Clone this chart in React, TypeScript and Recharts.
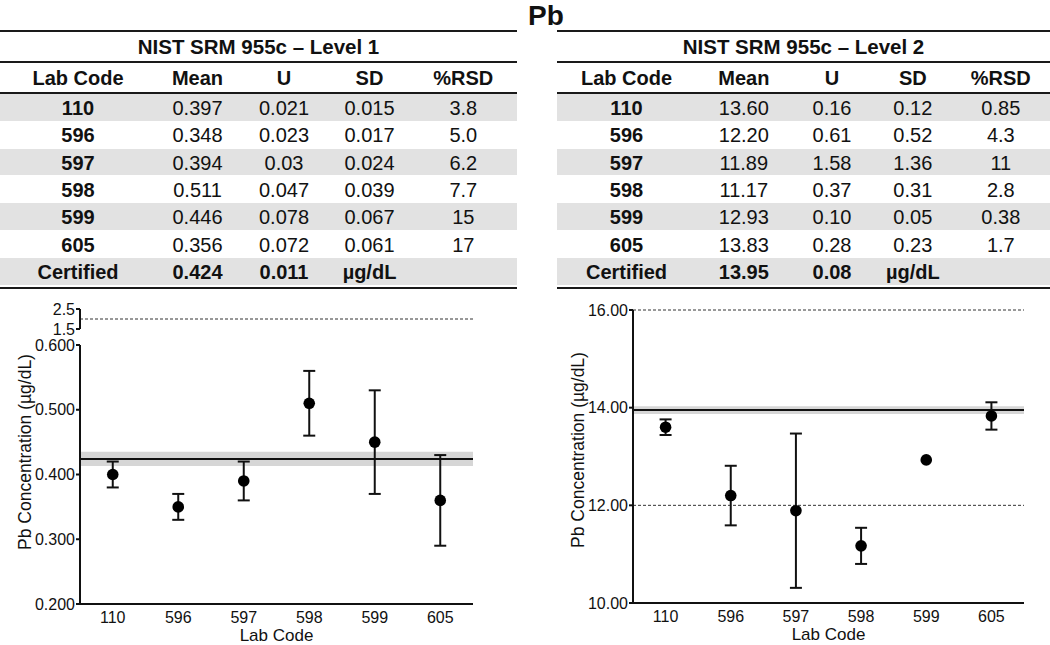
import { ErrorBar, ReferenceArea, ReferenceLine, Scatter, ScatterChart, XAxis, YAxis } from "recharts";

const labCodes = ["110", "596", "597", "598", "599", "605"];
const columns = ["Lab Code", "Mean", "U", "SD", "%RSD"];

// table values, kept as printed
const l1Mean = ["0.397", "0.348", "0.394", "0.511", "0.446", "0.356"];
const l1U = ["0.021", "0.023", "0.03", "0.047", "0.078", "0.072"];
const l1SD = ["0.015", "0.017", "0.024", "0.039", "0.067", "0.061"];
const l1RSD = ["3.8", "5.0", "6.2", "7.7", "15", "17"];
const l1Certified = ["0.424", "0.011", "µg/dL"];

const l2Mean = ["13.60", "12.20", "11.89", "11.17", "12.93", "13.83"];
const l2U = ["0.16", "0.61", "1.58", "0.37", "0.10", "0.28"];
const l2SD = ["0.12", "0.52", "1.36", "0.31", "0.05", "0.23"];
const l2RSD = ["0.85", "4.3", "11", "2.8", "0.38", "1.7"];
const l2Certified = ["13.95", "0.08", "µg/dL"];

// plotted values
const l1Points = [0.4, 0.35, 0.39, 0.51, 0.45, 0.36];
const l1Errors = [0.02, 0.02, 0.03, 0.05, 0.08, 0.07];
const l1Cert = 0.424;
const l1CertU = 0.011;
const l1Ticks = [0.2, 0.3, 0.4, 0.5, 0.6];
const l1BreakTicks = [1.5, 2.5];
const l1Limit = 2.0;

const l2Points = [13.6, 12.2, 11.89, 11.17, 12.93, 13.83];
const l2Errors = [0.16, 0.61, 1.58, 0.37, null, 0.28];
const l2Cert = 13.95;
const l2CertU = 0.08;
const l2Ticks = [10, 12, 14, 16];
const l2Limits = [12, 16];

const INK = "#111";
const FONT = '"Liberation Sans", Arial, sans-serif';

const toRows = (means: number[], errs: (number | null)[]) =>
  means.map((m, i) => ({ idx: i, lab: labCodes[i], mean: m, err: errs[i] }));

const l1Rows = toRows(l1Points, l1Errors);
const l2Rows = toRows(l2Points, l2Errors);
// the upper (broken) segment only carries the limit line
const l1LimitRows = [{ idx: 0, mean: l1Limit }];

const ROW_H = 27.42;
const FIRST_ROW = 107.7;

function Cell({ x, y, text, bold, size = 20 }: { x: number; y: number; text: string; bold?: boolean; size?: number }) {
  return (
    <div
      style={{
        position: "absolute",
        left: x - 200,
        width: 400,
        top: y - 12,
        height: 24,
        lineHeight: "24px",
        textAlign: "center",
        fontSize: size,
        fontWeight: bold ? 700 : 400,
        whiteSpace: "nowrap",
      }}
    >
      {text}
    </div>
  );
}

function StatsTable(props: {
  left: number;
  width: number;
  title: string;
  cols: number[];
  mean: string[];
  u: string[];
  sd: string[];
  rsd: string[];
  certified: string[];
}) {
  const { left, width, title, cols, mean, u, sd, rsd, certified } = props;
  const rule = (top: number) => (
    <div key={top} style={{ position: "absolute", left: 0, width, top, height: 2, background: "#1a1a1a" }} />
  );
  return (
    <div style={{ position: "absolute", left, top: 0, width, height: 290 }}>
      {[0, 2, 4, 6].map((i) => (
        <div
          key={i}
          style={{ position: "absolute", left: 0, width, top: 93.8 + ROW_H * i, height: 26.8, background: "#e2e2e2" }}
        />
      ))}
      {rule(30)}
      {rule(61)}
      {rule(92)}
      {rule(287)}
      <Cell x={width / 2} y={46.7} text={title} bold size={20.5} />
      {columns.map((c, j) => (
        <Cell key={c} x={cols[j]} y={77.7} text={c} bold />
      ))}
      {labCodes.map((code, i) => {
        const y = FIRST_ROW + ROW_H * i;
        return (
          <div key={code}>
            <Cell x={cols[0]} y={y} text={code} bold />
            <Cell x={cols[1]} y={y} text={mean[i]} />
            <Cell x={cols[2]} y={y} text={u[i]} />
            <Cell x={cols[3]} y={y} text={sd[i]} />
            <Cell x={cols[4]} y={y} text={rsd[i]} />
          </div>
        );
      })}
      <Cell x={cols[0]} y={FIRST_ROW + ROW_H * 6} text="Certified" bold />
      {certified.map((t, j) => (
        <Cell key={j} x={cols[j + 1]} y={FIRST_ROW + ROW_H * 6} text={t} bold />
      ))}
    </div>
  );
}

const Dot = (p: any) => (p.cx == null ? null : <circle cx={p.cx} cy={p.cy} r={5.8} fill="#000" />);
const NoDot = () => null;

const axisStroke = { stroke: INK, strokeWidth: 2 };
const tickStyle = { fontSize: 16, fill: INK };
const xDomain: [number, number] = [-0.5, labCodes.length - 0.5];

function PointsChart(props: {
  rows: ReturnType<typeof toRows>;
  width: number;
  height: number;
  domain: [number, number];
  ticks: number[];
  digits: number;
  cert: number;
  certU: number;
  limits: number[];
}) {
  const { rows, width, height, domain, ticks, digits, cert, certU, limits } = props;
  return (
    <ScatterChart width={width} height={height} margin={{ top: 15, right: 1, bottom: 0, left: 0 }}>
      <XAxis
        dataKey="idx"
        type="number"
        domain={xDomain}
        ticks={labCodes.map((_, i) => i)}
        tickFormatter={(i: number) => labCodes[i]}
        interval={0}
        height={41}
        tickSize={0}
        tickMargin={8}
        axisLine={axisStroke}
        tick={tickStyle}
        label={{ value: "Lab Code", position: "insideBottom", offset: 4, fontSize: 17, fill: INK }}
      />
      <YAxis
        dataKey="mean"
        type="number"
        domain={domain}
        ticks={ticks}
        interval={0}
        allowDataOverflow
        width={80}
        tickSize={4}
        tickMargin={1}
        axisLine={axisStroke}
        tickLine={axisStroke}
        tick={tickStyle}
        tickFormatter={(v: number) => v.toFixed(digits)}
      />
      <ReferenceArea y1={cert - certU} y2={cert + certU} fill="#d6d6d6" fillOpacity={1} stroke="none" />
      <ReferenceLine y={cert} stroke={INK} strokeWidth={2} />
      {limits.map((v) => (
        <ReferenceLine key={v} y={v} stroke="#333" strokeWidth={1} strokeDasharray="3 2" />
      ))}
      <Scatter data={rows} dataKey="mean" fill="#000" shape={Dot} isAnimationActive={false}>
        <ErrorBar dataKey="err" direction="y" width={6} stroke={INK} strokeWidth={2} isAnimationActive={false} />
      </Scatter>
    </ScatterChart>
  );
}

export default function App() {
  return (
    <div
      style={{
        position: "relative",
        width: 1050,
        height: 645,
        background: "#fff",
        color: INK,
        fontFamily: FONT,
        overflow: "hidden",
      }}
    >
      <style>{"body{margin:0}"}</style>
      <div
        style={{
          position: "absolute",
          left: 496,
          width: 100,
          top: 0,
          height: 32,
          lineHeight: "32px",
          textAlign: "center",
          fontSize: 28,
          fontWeight: 700,
        }}
      >
        Pb
      </div>

      <StatsTable
        left={0}
        width={517}
        title="NIST SRM 955c – Level 1"
        cols={[78, 197.5, 284, 369.5, 463.3]}
        mean={l1Mean}
        u={l1U}
        sd={l1SD}
        rsd={l1RSD}
        certified={l1Certified}
      />
      <StatsTable
        left={557}
        width={493}
        title="NIST SRM 955c – Level 2"
        cols={[69.5, 186.8, 275, 355.8, 443.8]}
        mean={l2Mean}
        u={l2U}
        sd={l2SD}
        rsd={l2RSD}
        certified={l2Certified}
      />

      {/* level 1: broken axis, upper segment */}
      <div style={{ position: "absolute", left: 0, top: 295 }}>
        <ScatterChart width={474} height={45} margin={{ top: 14, right: 1, bottom: 11, left: 0 }}>
          <XAxis dataKey="idx" type="number" domain={xDomain} hide />
          <YAxis
            dataKey="mean"
            type="number"
            domain={[1.5, 2.5]}
            ticks={l1BreakTicks}
            interval={0}
            width={80}
            tickSize={4}
            tickMargin={1}
            axisLine={axisStroke}
            tickLine={axisStroke}
            tick={tickStyle}
            tickFormatter={(v: number) => v.toFixed(1)}
          />
          <ReferenceLine y={l1Limit} stroke="#333" strokeWidth={1} strokeDasharray="3 2" />
          <Scatter data={l1LimitRows} dataKey="mean" shape={NoDot} isAnimationActive={false} />
        </ScatterChart>
      </div>

      {/* level 1: main segment */}
      <div style={{ position: "absolute", left: 0, top: 330 }}>
        <PointsChart
          rows={l1Rows}
          width={474}
          height={315}
          domain={[0.2, 0.6]}
          ticks={l1Ticks}
          digits={3}
          cert={l1Cert}
          certU={l1CertU}
          limits={[]}
        />
      </div>

      {/* level 2 */}
      <div style={{ position: "absolute", left: 553, top: 295 }}>
        <PointsChart
          rows={l2Rows}
          width={472}
          height={349}
          domain={[10, 16]}
          ticks={l2Ticks}
          digits={2}
          cert={l2Cert}
          certU={l2CertU}
          limits={l2Limits}
        />
      </div>

      <svg
        width={1050}
        height={645}
        style={{ position: "absolute", left: 0, top: 0, pointerEvents: "none" }}
      >
        <text x={25} y={452} transform="rotate(-90 25 452)" textAnchor="middle" dominantBaseline="central" fontSize={17.5} fill={INK}>
          Pb Concentration (µg/dL)
        </text>
        <text x={578} y={450} transform="rotate(-90 578 450)" textAnchor="middle" dominantBaseline="central" fontSize={17.5} fill={INK}>
          Pb Concentration (µg/dL)
        </text>
      </svg>
    </div>
  );
}
